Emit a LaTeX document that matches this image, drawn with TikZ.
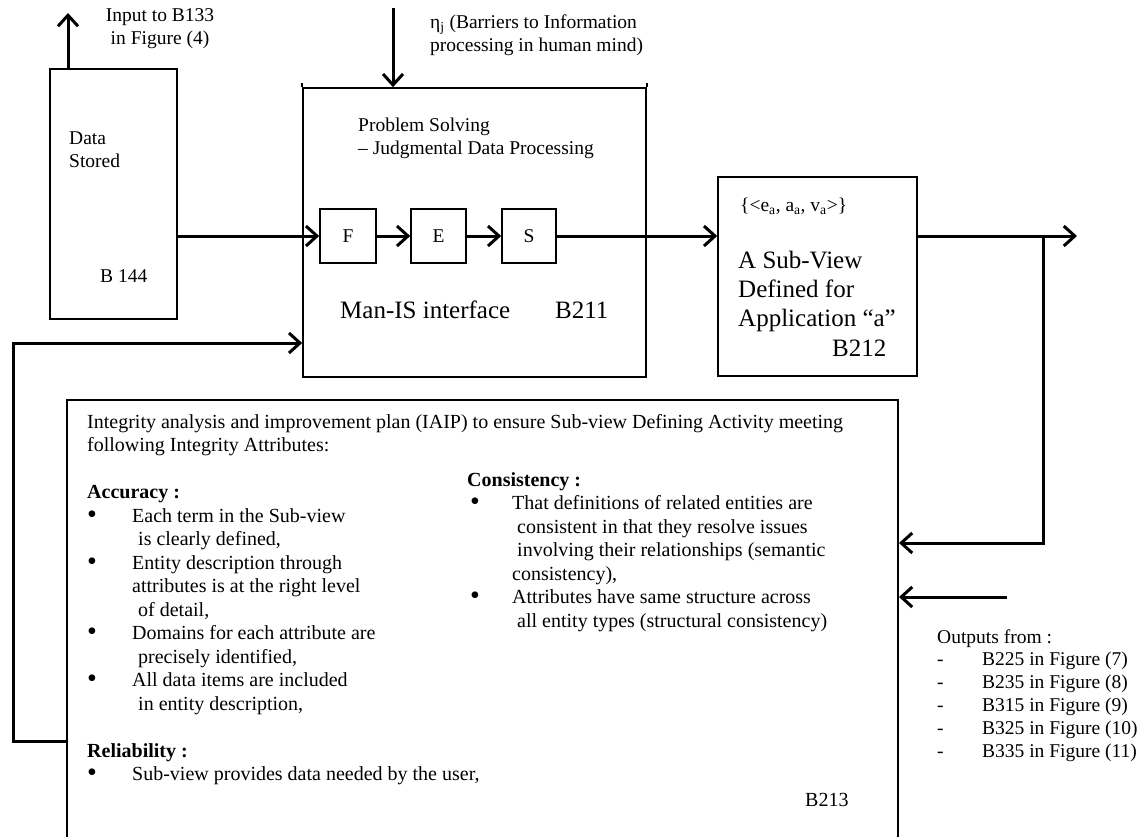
\documentclass[tikz,border=0pt]{standalone}
\usepackage{fontspec}
\setmainfont{Liberation Serif}
\usetikzlibrary{arrows.meta}
\newcommand\bigbul{\raisebox{-1pt}{\fontsize{28}{0}\selectfont\textbullet}}
\newcommand\bulitem{\makebox[45pt][l]{\bigbul}}
\begin{document}
\begin{tikzpicture}[x=1pt,y=-1pt,
  box/.style={draw, line width=1.6pt, inner sep=0pt},
  flow/.style={line width=3pt, -{Straight Barb[length=11pt,width=20pt]}},
  small/.style={font=\fontsize{19.5}{23.5}\selectfont, inner sep=0pt},
  large/.style={font=\fontsize{25}{29.3}\selectfont, inner sep=0pt},
  txt/.style={small, anchor=north west, align=left},
  btxt/.style={font=\fontsize{20}{23.5}\selectfont, inner sep=0pt, anchor=north west, align=left},
]
\useasboundingbox (0,0) rectangle (1146,836);
\fill[white] (0,0) rectangle (1146,836);

% boxes
\node[box, minimum width=127pt, minimum height=250pt] (ds) at (113.5,194) {};
\node[box, minimum width=343pt, minimum height=289pt] (mis) at (474.5,232.5) {};
\draw[line width=1.6pt] (mis.north west) -- ++(0,-4);
\draw[line width=1.6pt] (mis.north east) -- ++(0,-4);
\node[box, small, minimum width=56pt, minimum height=54pt] (F) at (348,236) {F};
\node[box, small, minimum width=55pt, minimum height=54pt] (E) at (438.5,236) {E};
\node[box, small, minimum width=54pt, minimum height=54pt] (S) at (529,236) {S};
\node[box, minimum width=199pt, minimum height=199pt] (b212) at (817.5,276.5) {};
\begin{scope}
\clip (0,0) rectangle (1146,836);
\node[draw, line width=2pt, inner sep=0pt, minimum width=831pt, minimum height=460pt] (b213) at (482.5,630) {};
\end{scope}

% connectors
\coordinate (inB133) at (68,13);
\draw[flow] (inB133 |- ds.north) -- (inB133);
\coordinate (eta) at (393,8);
\draw[flow] (eta) -- (eta |- mis.north);
\draw[flow] (ds.east |- F.west) -- (F.west);
\draw[flow] (F) -- (E);
\draw[flow] (E) -- (S);
\draw[flow] (S.east) -- (S.east -| b212.west);
\coordinate (out) at (1077,236);
\coordinate (jn) at (1043,236);
\coordinate (fb1) at (1043,543);
\draw[flow] (b212.east |- out) -- (out);
\draw[flow] (jn) -- (fb1) -- (fb1 -| b213.east);
\coordinate (ext) at (1007,597);
\draw[flow] (ext) -- (ext -| b213.east);
\coordinate (fbl) at (13,741);
\coordinate (fbt) at (13,343);
\draw[flow] (fbl -| b213.west) -- (fbl) -- (fbt) -- (fbt -| mis.west);

% texts
\node[small, anchor=north, align=center] (tin) at (160,4.5) {\strut Input to B133\\in Figure (4)};
\node[txt] (teta) at (430,11.5) {\strut η\textsubscript{j} (Barriers to Information\\processing in human mind)};
\node[txt] (tps) at (358,114.5) {\strut Problem Solving\\– Judgmental Data Processing};
\node[txt] (tds) at (69,127.5) {\strut Data\\Stored};
\node[small, anchor=base west] (t144) at (100,282) {B 144};
\node[large, anchor=base west] (tmis) at (340,318) {\makebox[215pt][l]{Man-IS interface}B211};
\node[small, anchor=base west] (tset) at (740,211) {\{<e\textsubscript{a}, a\textsubscript{a}, v\textsubscript{a}>\}};
\node[large, anchor=north west, align=left] (tsv) at (738,247.5) {\strut A Sub-View\\Defined for\\Application “a”\\\hspace*{94pt}B212};

\node[btxt] (tiaip) at (87,411.5) {\strut Integrity analysis and improvement plan (IAIP) to ensure Sub-view Defining Activity meeting\\
following Integrity Attributes:\\[23.5pt]
\textbf{Accuracy :}\\
\bulitem Each term in the Sub-view\\
\hspace*{51pt}is clearly defined,\\
\bulitem Entity description through\\
\hspace*{45pt}attributes is at the right level\\
\hspace*{51pt}of detail,\\
\bulitem Domains for each attribute are\\
\hspace*{51pt}precisely identified,\\
\bulitem All data items are included\\
\hspace*{51pt}in entity description,\\[23.5pt]
\textbf{Reliability :}\\
\bulitem Sub-view provides data needed by the user,};

\node[btxt] (tcons) at (467,469.5) {\strut\textbf{Consistency :}\\
\makebox[45pt][l]{\hspace*{3pt}\bigbul}That definitions of related entities are\\
\hspace*{50pt}consistent in that they resolve issues\\
\hspace*{50pt}involving their relationships (semantic\\
\hspace*{45pt}consistency),\\
\makebox[45pt][l]{\hspace*{3pt}\bigbul}Attributes have same structure across\\
\hspace*{50pt}all entity types (structural consistency)};

\node[font=\fontsize{20}{23.5}\selectfont, inner sep=0pt, anchor=base west] (t213) at (805,806) {B213};

\node[small, anchor=north west, align=left, font=\fontsize{19.5}{22.8}\selectfont] (tout) at (937,627) {\strut Outputs from :\\
\makebox[45pt][l]{-}B225 in Figure (7)\\
\makebox[45pt][l]{-}B235 in Figure (8)\\
\makebox[45pt][l]{-}B315 in Figure (9)\\
\makebox[45pt][l]{-}B325 in Figure (10)\\
\makebox[45pt][l]{-}B335 in Figure (11)};
\end{tikzpicture}
\end{document}
